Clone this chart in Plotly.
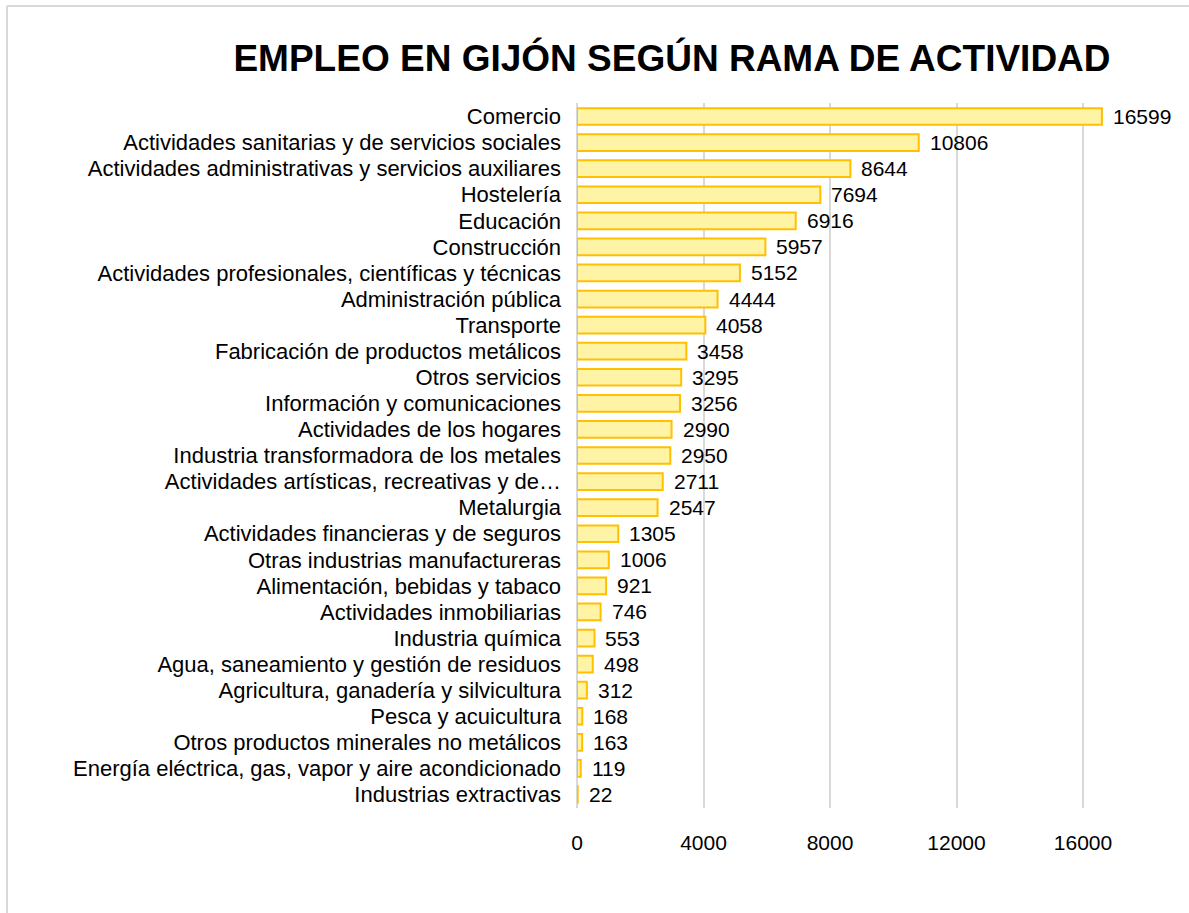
import plotly.graph_objects as go

categories = [
    "Comercio",
    "Actividades sanitarias y de servicios sociales",
    "Actividades administrativas y servicios auxiliares",
    "Hostelería",
    "Educación",
    "Construcción",
    "Actividades profesionales, científicas y técnicas",
    "Administración pública",
    "Transporte",
    "Fabricación de productos metálicos",
    "Otros servicios",
    "Información y comunicaciones",
    "Actividades de los hogares",
    "Industria transformadora de los metales",
    "Actividades artísticas, recreativas y de…",
    "Metalurgia",
    "Actividades financieras y de seguros",
    "Otras industrias manufactureras",
    "Alimentación, bebidas y tabaco",
    "Actividades inmobiliarias",
    "Industria química",
    "Agua, saneamiento y gestión de residuos",
    "Agricultura, ganadería y silvicultura",
    "Pesca y acuicultura",
    "Otros productos minerales no metálicos",
    "Energía eléctrica, gas, vapor y aire acondicionado",
    "Industrias extractivas",
]
values = [16599, 10806, 8644, 7694, 6916, 5957, 5152, 4444, 4058, 3458, 3295,
          3256, 2990, 2950, 2711, 2547, 1305, 1006, 921, 746, 553, 498, 312,
          168, 163, 119, 22]
tick_vals = [0, 4000, 8000, 12000, 16000]
title_text = "EMPLEO EN GIJÓN SEGÚN RAMA DE ACTIVIDAD"

W, H = 1189, 913
L, T, B, R = 577, 103, 105, 0
plot_w = W - L - R
plot_h = H - T - B
xmax = 16000 * plot_w / (1083 - 577)
FONT = "Liberation Sans, Arial"
FS = 22

fig = go.Figure()
fig.add_trace(go.Bar(
    x=values, y=categories, orientation="h",
    marker=dict(color="#FFF3A6", line=dict(color="#FFC000", width=2)),
    width=0.64,
    hoverinfo="x+y",
))
for c, v in zip(categories, values):
    fig.add_annotation(x=v, y=c, text=str(v), showarrow=False, xanchor="left",
                       xshift=9, font=dict(size=FS - 1, color="#000000", family=FONT))

fig.add_shape(type="line", xref="paper", yref="paper",
              x0=(7 - L) / plot_w, x1=(W + 5 - L) / plot_w,
              y0=(H - B - 6) / plot_h, y1=(H - B - 6) / plot_h,
              line=dict(color="#D9D9D9", width=2))
fig.add_shape(type="line", xref="paper", yref="paper",
              x0=(7 - L) / plot_w, x1=(7 - L) / plot_w,
              y0=(H - B - 6) / plot_h, y1=-0.5,
              line=dict(color="#D9D9D9", width=2))

fig.update_layout(
    width=W, height=H,
    margin=dict(l=L, r=R, t=T, b=B, pad=0, autoexpand=False),
    paper_bgcolor="white", plot_bgcolor="white",
    showlegend=False,
    font=dict(family=FONT, size=FS, color="#000000"),
    title=dict(text="<b>" + title_text + "</b>", x=672 / W, xanchor="center",
               y=1 - 58 / H, yanchor="middle",
               font=dict(size=37, color="#000000", family=FONT)),
    xaxis=dict(range=[0, xmax], tickvals=tick_vals, ticktext=[str(t) for t in tick_vals],
               showgrid=True, gridcolor="#D9D9D9", gridwidth=1.5,
               zeroline=True, zerolinecolor="#D9D9D9", zerolinewidth=1.5,
               showline=False, ticks="", ticklabelstandoff=20, automargin=False,
               tickfont=dict(size=FS - 1, color="#000000")),
    yaxis=dict(autorange="reversed", showgrid=False, ticks="", automargin=False,
               ticklabelstandoff=15, tickfont=dict(size=FS, color="#000000")),
    bargap=0.36,
)
fig.write_html("out.html", config={"displayModeBar": False},
               post_script="document.body.style.margin='0';document.body.style.overflow='hidden';")
